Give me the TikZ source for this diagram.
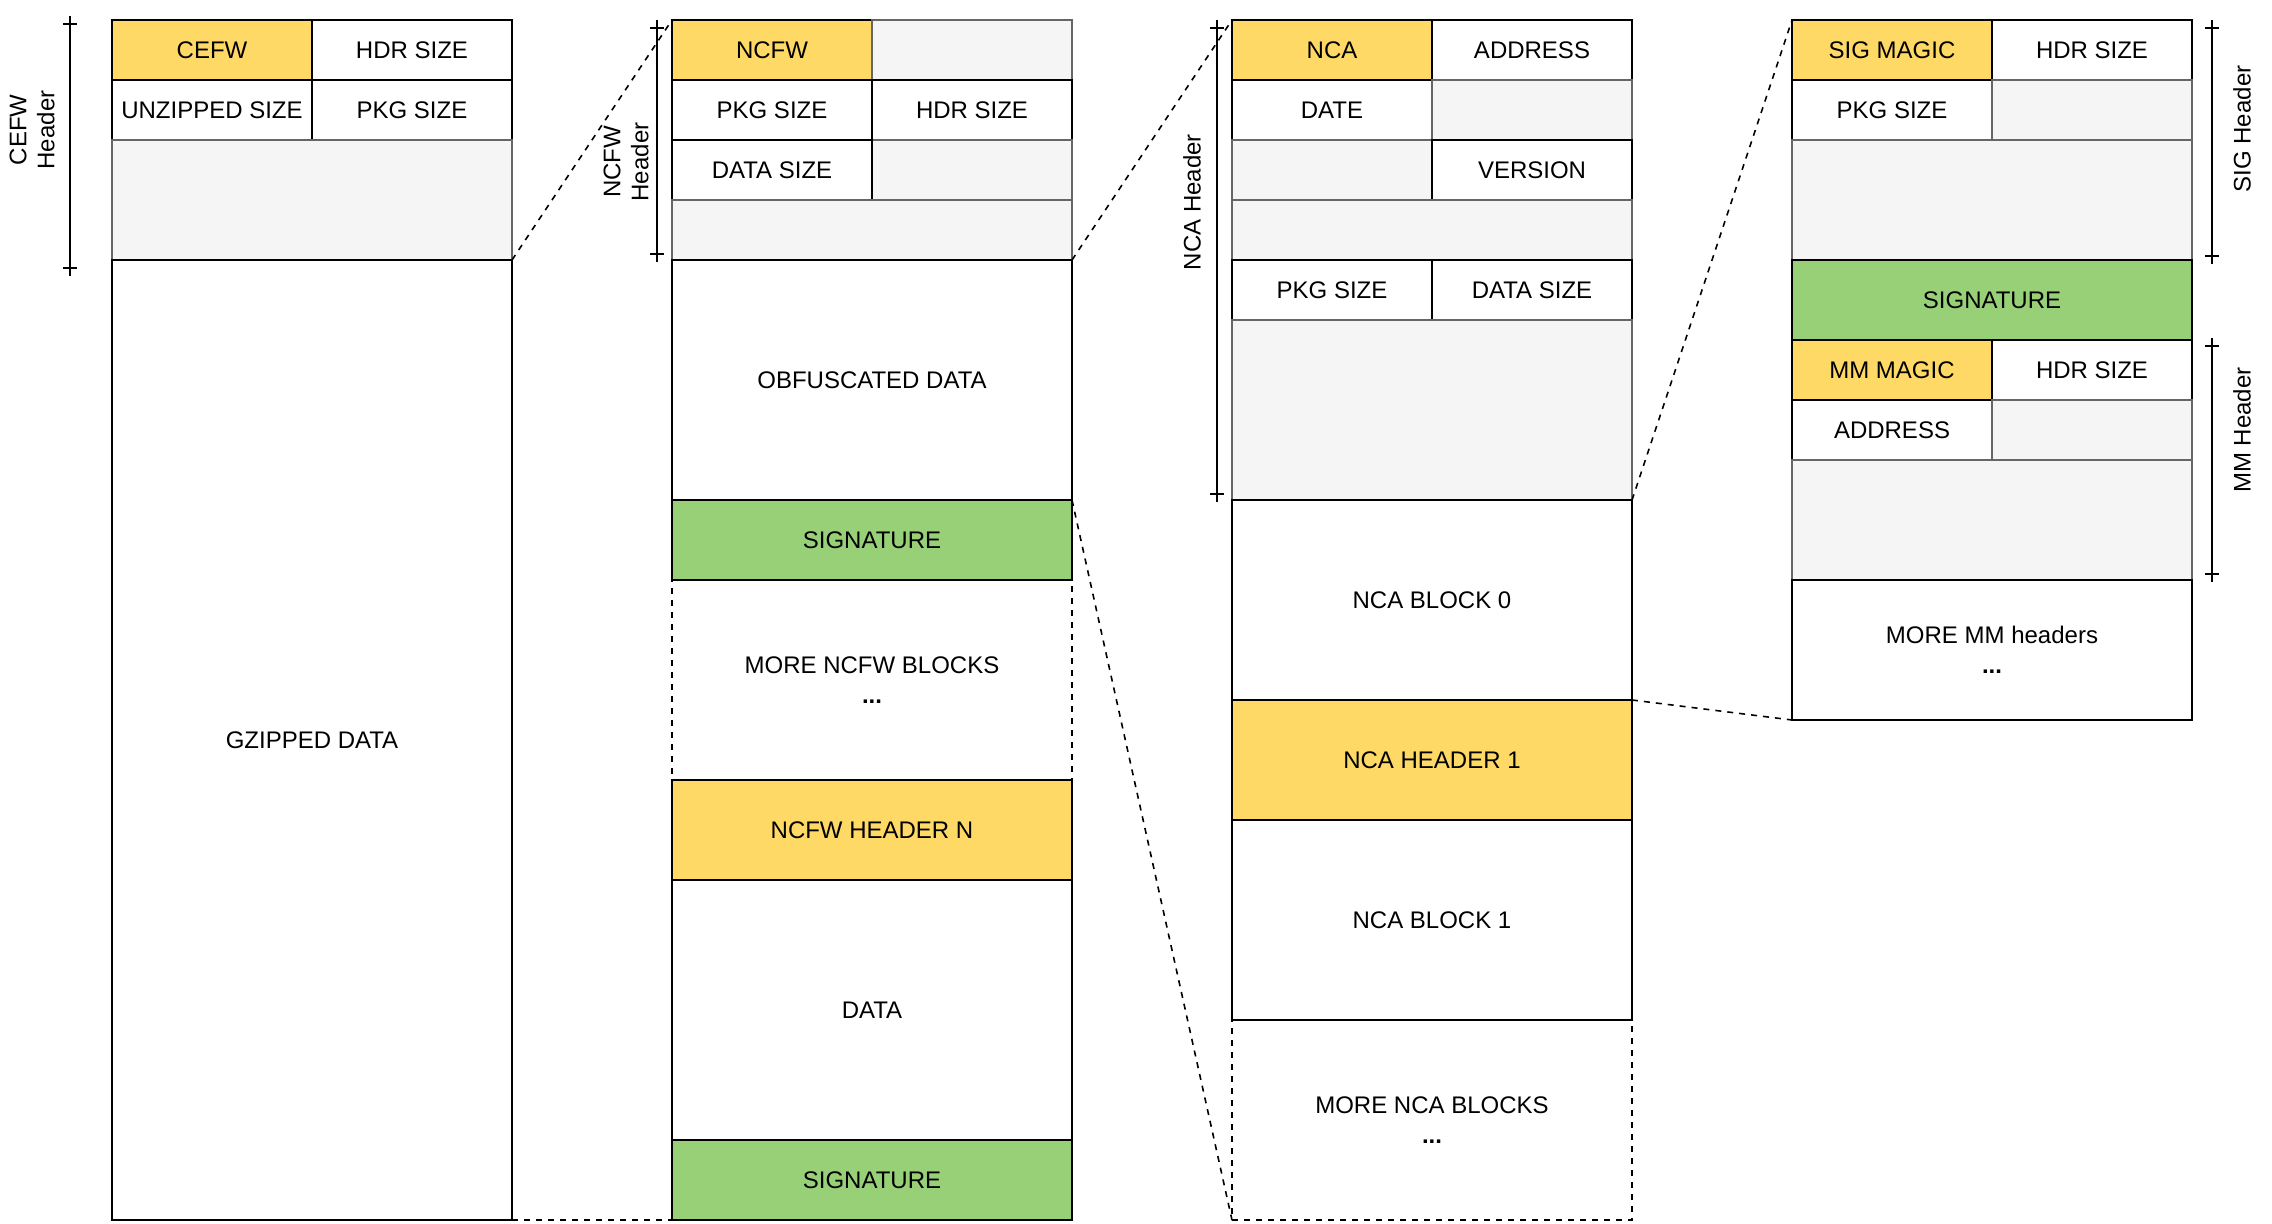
\documentclass[tikz,border=0pt]{standalone}
\usepackage{fontspec}
\setmainfont{Liberation Sans}
\usepackage{xcolor}
\usetikzlibrary{positioning}

\definecolor{hdryellow}{HTML}{FFD966}
\definecolor{siggreen}{HTML}{97D077}
\definecolor{padfill}{HTML}{F5F5F5}
\definecolor{padline}{HTML}{666666}

\begin{document}
\begin{tikzpicture}[x=1pt, y=-1pt,
  cell/.style={draw=black, line width=1pt, inner sep=0pt, outer sep=0pt, anchor=north west,
    minimum height=30pt, align=center, font=\fontsize{12}{15}\selectfont},
  halfcell/.style={cell, minimum width=100pt},
  widecell/.style={cell, minimum width=200pt},
  magic/.style={fill=hdryellow},
  signed/.style={fill=siggreen},
  padcell/.style={draw=padline, fill=padfill},
  morecell/.style={dash pattern=on 3pt off 3pt},
  zoomline/.style={line width=0.8pt, dash pattern=on 3pt off 3pt},
  spanline/.style={line width=1pt},
  spanlabel/.style={rotate=90, align=center, font=\fontsize{12}{14}\selectfont}]
\useasboundingbox (0,0) rectangle (1136,612);

% CEFW
\node[halfcell, magic] (cefw) at (56,10) {CEFW};
\node[halfcell] (cefwhdr) at (156,10) {HDR SIZE};
\node[halfcell] (cefwunz) at (56,40) {UNZIPPED SIZE};
\node[halfcell] (cefwpkg) at (156,40) {PKG SIZE};
\node[widecell, padcell, minimum height=60pt] (cefwpad) at (56,70) {};
\node[widecell, minimum height=480pt] (gzdata) at (56,130) {GZIPPED DATA};
\draw[spanline] (35,8) -- (35,138) (31.5,12) -- (38.5,12) (31.5,134) -- (38.5,134);
\node[spanlabel] (cefwlbl) at (16,65) {CEFW\\Header};

% NCFW
\node[halfcell, magic] (ncfw) at (336,10) {NCFW};
\node[halfcell, padcell] (ncfwpad1) at (436,10) {};
\node[halfcell] (ncfwpkg) at (336,40) {PKG SIZE};
\node[halfcell] (ncfwhdr) at (436,40) {HDR SIZE};
\node[halfcell, padcell] (ncfwpad2) at (436,70) {};
\node[halfcell] (ncfwdata) at (336,70) {DATA SIZE};
\node[widecell, padcell] (ncfwpad3) at (336,100) {};
\node[widecell, minimum height=120pt] (obfdata) at (336,130) {OBFUSCATED DATA};
\node[widecell, signed, minimum height=40pt] (ncfwsig) at (336,250) {SIGNATURE};
\node[widecell, morecell, minimum height=100pt] (morencfw) at (336,290) {MORE NCFW BLOCKS\\\textbf{...}};
\node[widecell, magic, minimum height=50pt] (ncfwn) at (336,390) {NCFW HEADER N};
\node[widecell, minimum height=130pt] (ncfwndata) at (336,440) {DATA};
\node[widecell, signed, minimum height=40pt] (ncfwnsig) at (336,570) {SIGNATURE};
\draw[spanline] (328.5,10) -- (328.5,131) (325,14) -- (332,14) (325,127) -- (332,127);
\node[spanlabel] (ncfwlbl) at (313,81) {NCFW\\Header};

% NCA
\node[halfcell, magic] (nca) at (616,10) {NCA};
\node[halfcell] (ncaaddr) at (716,10) {ADDRESS};
\node[halfcell] (ncadate) at (616,40) {DATE};
\node[halfcell, padcell] (ncapad1) at (716,40) {};
\node[halfcell, padcell] (ncapad2) at (616,70) {};
\node[halfcell] (ncaver) at (716,70) {VERSION};
\node[widecell, padcell] (ncapad3) at (616,100) {};
\node[halfcell] (ncapkg) at (616,130) {PKG SIZE};
\node[halfcell] (ncadata) at (716,130) {DATA SIZE};
\node[widecell, padcell, minimum height=90pt] (ncapad4) at (616,160) {};
\node[widecell, minimum height=100pt] (ncablk0) at (616,250) {NCA BLOCK 0};
\node[widecell, magic, minimum height=60pt] (ncahdr1) at (616,350) {NCA HEADER 1};
\node[widecell, minimum height=100pt] (ncablk1) at (616,410) {NCA BLOCK 1};
\node[widecell, morecell, minimum height=100pt] (moreca) at (616,510) {MORE NCA BLOCKS\\\textbf{...}};
\draw[spanline] (608.5,10) -- (608.5,251) (605,14) -- (612,14) (605,247) -- (612,247);
\node[spanlabel] (ncalbl) at (596,101) {NCA Header};

% SIG / MM
\node[halfcell, magic] (sigmagic) at (896,10) {SIG MAGIC};
\node[halfcell] (sighdr) at (996,10) {HDR SIZE};
\node[halfcell] (sigpkg) at (896,40) {PKG SIZE};
\node[halfcell, padcell] (sigpad1) at (996,40) {};
\node[widecell, padcell, minimum height=60pt] (sigpad2) at (896,70) {};
\node[widecell, signed, minimum height=40pt] (sigsig) at (896,130) {SIGNATURE};
\node[halfcell, magic] (mmmagic) at (896,170) {MM MAGIC};
\node[halfcell] (mmhdr) at (996,170) {HDR SIZE};
\node[halfcell] (mmaddr) at (896,200) {ADDRESS};
\node[halfcell, padcell] (mmpad1) at (996,200) {};
\node[widecell, padcell, minimum height=60pt] (mmpad2) at (896,230) {};
\node[widecell, minimum height=70pt] (moremm) at (896,290) {MORE MM headers\\\textbf{...}};
\draw[spanline] (1106,10) -- (1106,132) (1102.5,14) -- (1109.5,14) (1102.5,128) -- (1109.5,128);
\node[spanlabel] (siglbl) at (1121,64.5) {SIG Header};
\draw[spanline] (1106,169) -- (1106,291) (1102.5,173) -- (1109.5,173) (1102.5,287) -- (1109.5,287);
\node[spanlabel] (mmlbl) at (1121,215) {MM Header};

% zoom lines
\draw[zoomline] (cefwpad.south east) -- (ncfw.north west);
\draw[zoomline] (gzdata.south east) -- (ncfwnsig.south west);
\draw[zoomline] (ncfwpad3.south east) -- (nca.north west);
\draw[zoomline] (ncfwsig.north east) -- (moreca.south west);
\draw[zoomline] (ncapad4.south east) -- (sigmagic.north west);
\draw[zoomline] (ncahdr1.north east) -- (moremm.south west);
\end{tikzpicture}
\end{document}
